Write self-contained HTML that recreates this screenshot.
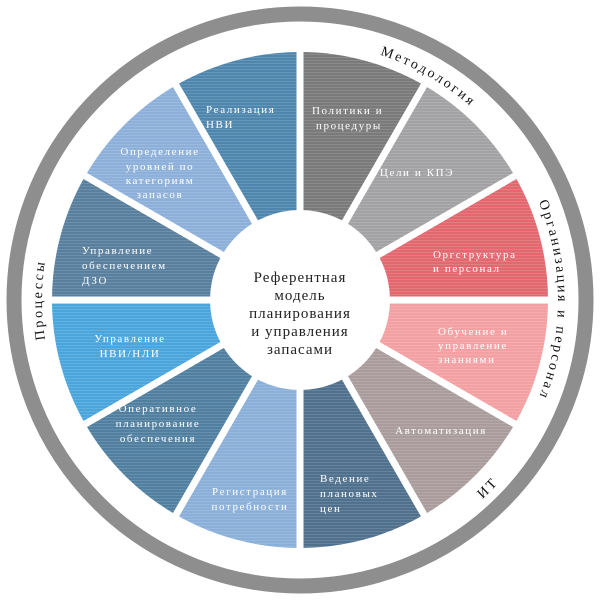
<!DOCTYPE html>
<html><head><meta charset="utf-8"><style>
html,body{margin:0;padding:0;background:#fff;}
svg{display:block;}
.s{font-family:"Liberation Serif",serif;font-size:11px;fill:#fff;letter-spacing:1.6px;}
.c{font-family:"Liberation Serif",serif;font-size:15px;fill:#222;letter-spacing:1px;}
.o{font-family:"Liberation Serif",serif;font-size:14px;fill:#111;letter-spacing:2.5px;}
</style></head><body>
<svg width="600" height="600" viewBox="0 0 600 600" xmlns="http://www.w3.org/2000/svg">
<defs>
<pattern id="st" width="4" height="3" patternUnits="userSpaceOnUse"><rect width="4" height="1" fill="#fff" opacity="0.13"/></pattern>
<path id="cw" d="M300,558 A258,258 0 1 1 300,42 A258,258 0 1 1 300,558"/>
<path id="ccw" d="M300,30 A270,270 0 1 0 300,570 A270,270 0 1 0 300,30"/>
</defs>
<circle cx="300" cy="300" r="286" fill="none" stroke="#8e8e8e" stroke-width="15"/>
<g>
<path d="M300,300 L300,52 A248,248 0 0 1 424,85.2Z" fill="#7a7a7a"/>
<path d="M300,300 L424,85.2 A248,248 0 0 1 514.8,176Z" fill="#a2a2a4"/>
<path d="M300,300 L514.8,176 A248,248 0 0 1 548,300Z" fill="#e2676e"/>
<path d="M300,300 L548,300 A248,248 0 0 1 514.8,424Z" fill="#f3a0a3"/>
<path d="M300,300 L514.8,424 A248,248 0 0 1 424,514.8Z" fill="#aa9c9c"/>
<path d="M300,300 L424,514.8 A248,248 0 0 1 300,548Z" fill="#50718d"/>
<path d="M300,300 L300,548 A248,248 0 0 1 176,514.8Z" fill="#8aafd8"/>
<path d="M300,300 L176,514.8 A248,248 0 0 1 85.2,424Z" fill="#507fa0"/>
<path d="M300,300 L85.2,424 A248,248 0 0 1 52,300Z" fill="#4aa5dd"/>
<path d="M300,300 L52,300 A248,248 0 0 1 85.2,176Z" fill="#587f9e"/>
<path d="M300,300 L85.2,176 A248,248 0 0 1 176,85.2Z" fill="#8cb0d9"/>
<path d="M300,300 L176,85.2 A248,248 0 0 1 300,52Z" fill="#4f86ad"/>
<circle cx="300" cy="300" r="248" fill="url(#st)"/>
</g>
<g stroke="#fff" stroke-width="7">
<line x1="300" y1="45" x2="300" y2="555"/>
<line x1="427.5" y1="79.2" x2="172.5" y2="520.8"/>
<line x1="520.8" y1="172.5" x2="79.2" y2="427.5"/>
<line x1="45" y1="300" x2="555" y2="300"/>
<line x1="520.8" y1="427.5" x2="79.2" y2="172.5"/>
<line x1="427.5" y1="520.8" x2="172.5" y2="79.2"/>
</g>
<circle cx="300" cy="300" r="90" fill="#fff"/>
<g class="c" text-anchor="middle">
<text x="300" y="282">Референтная</text>
<text x="300" y="300">модель</text>
<text x="300" y="318">планирования</text>
<text x="300" y="336">и управления</text>
<text x="300" y="354">запасами</text>
</g>
<g class="s">
<text x="206" y="113">Реализация</text><text x="206" y="128">НВИ</text>
<text x="312" y="114">Политики и</text><text x="316" y="129">процедуры</text>
<text x="417" y="176" text-anchor="middle">Цели и КПЭ</text>
<text x="433" y="258">Оргструктура</text><text x="433" y="272">и персонал</text>
<text x="438" y="335">Обучение и</text><text x="438" y="349">управление</text><text x="438" y="363">знаниями</text>
<text x="441" y="434" text-anchor="middle">Автоматизация</text>
<text x="320" y="482">Ведение</text><text x="320" y="497">плановых</text><text x="320" y="512">цен</text>
<text x="250" y="495" text-anchor="middle">Регистрация</text><text x="250" y="510" text-anchor="middle">потребности</text>
<text x="158" y="412" text-anchor="middle">Оперативное</text><text x="158" y="427" text-anchor="middle">планирование</text><text x="158" y="442" text-anchor="middle">обеспечения</text>
<text x="130" y="342" text-anchor="middle">Управление</text><text x="130" y="357" text-anchor="middle">НВИ/НЛИ</text>
<text x="82" y="254">Управление</text><text x="82" y="269">обеспечением</text><text x="82" y="284">ДЗО</text>
<text x="160" y="155" text-anchor="middle">Определение</text><text x="160" y="170" text-anchor="middle">уровней по</text><text x="160" y="184" text-anchor="middle">категориям</text><text x="160" y="198" text-anchor="middle">запасов</text>
</g>
<g class="o" text-anchor="middle">
<text><textPath href="#cw" startOffset="25%">Процессы</textPath></text>
<text><textPath href="#cw" startOffset="58.3%">Методология</textPath></text>
<text><textPath href="#cw" startOffset="75%">Организация и персонал</textPath></text>
<text><textPath href="#ccw" startOffset="62.5%">ИТ</textPath></text>
</g>
</svg>
</body></html>
